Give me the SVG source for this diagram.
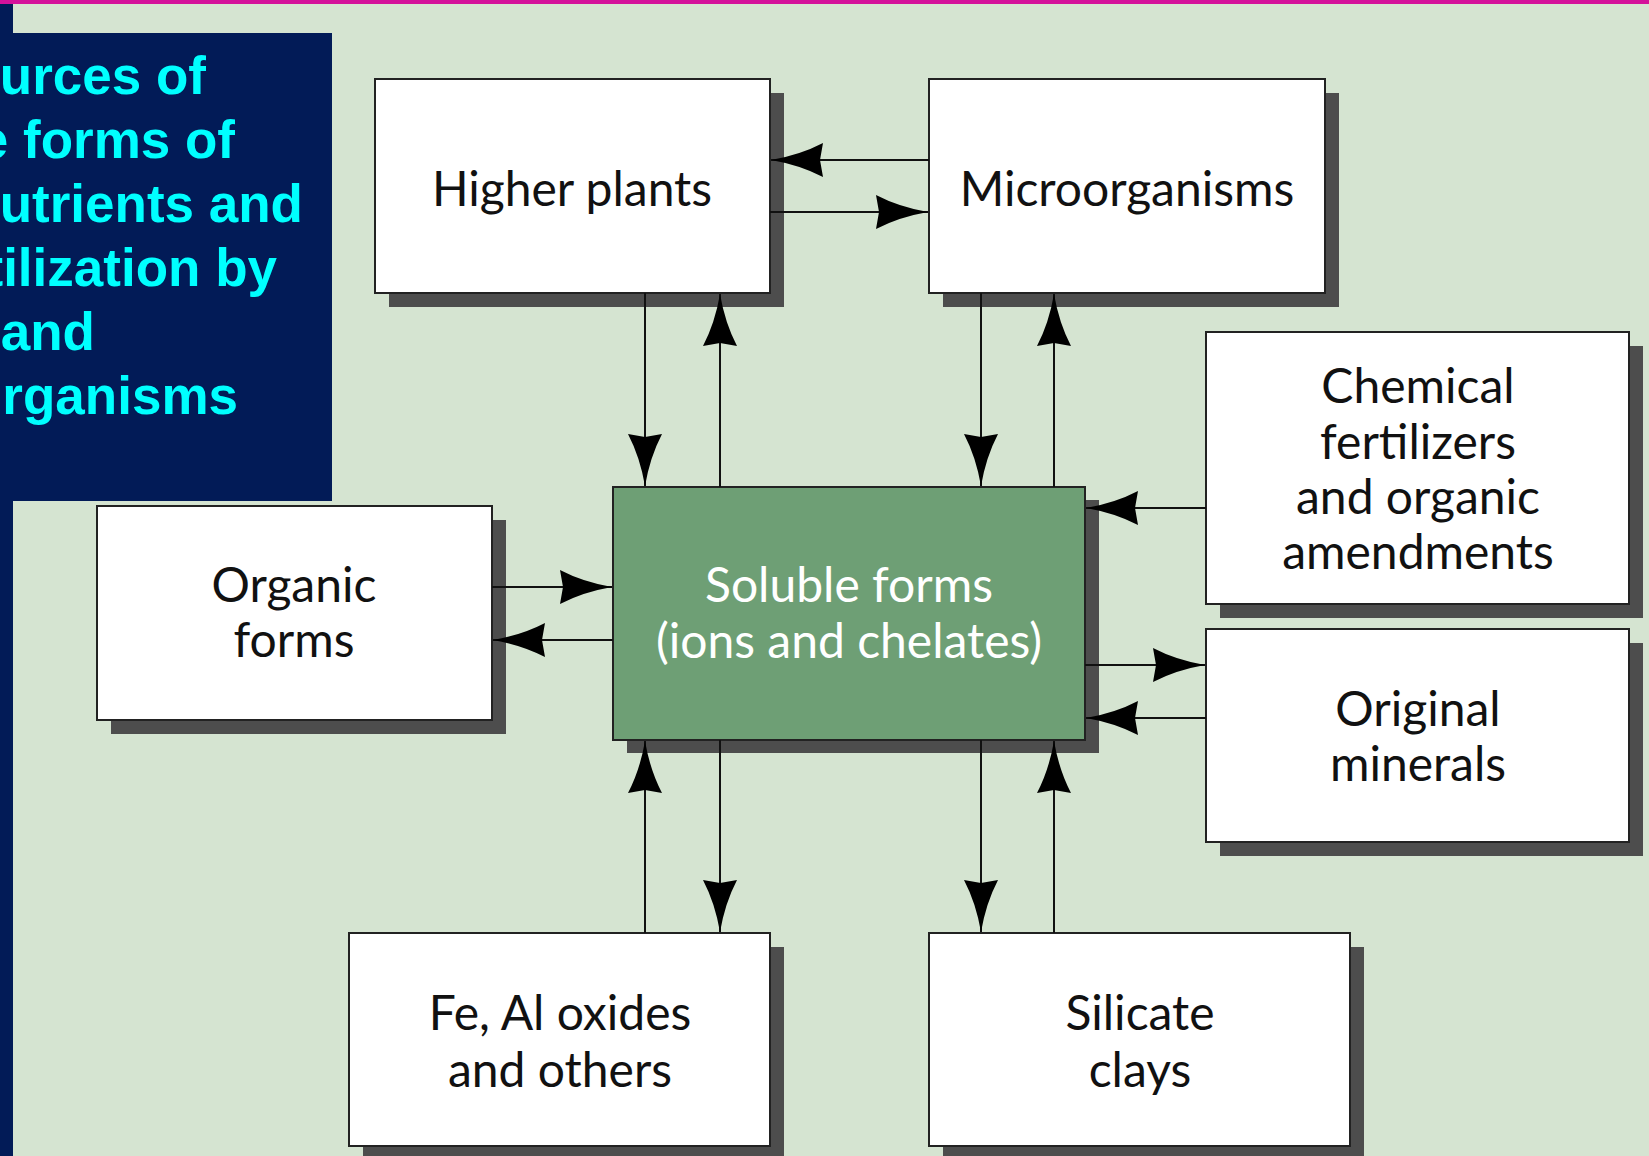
<svg xmlns="http://www.w3.org/2000/svg" width="1649" height="1156" viewBox="0 0 1649 1156">
<style>
.bg{fill:#d5e4d1}
.box{fill:#ffffff;stroke:#222222;stroke-width:2}
.shadow{fill:#4d4d4d}
.green{fill:#6e9f75;stroke:#222222;stroke-width:2}
.lbl{font-family:Lato,"Open Sans","Noto Sans",sans-serif;font-size:48px;fill:#111111;text-anchor:middle}
.wlbl{font-family:Lato,"Open Sans","Noto Sans",sans-serif;font-size:48px;fill:#ffffff;text-anchor:middle}
.title{font-family:"Liberation Sans",Arial,sans-serif;font-size:53px;font-weight:bold;fill:#00ffff;text-anchor:end}
.con{stroke:#111111;stroke-width:2;fill:none;marker-end:url(#ah)}
</style>
<defs>
<marker id="ah" markerUnits="userSpaceOnUse" markerWidth="54" markerHeight="34" viewBox="0 0 54 34" refX="53" refY="17" orient="auto">
<path d="M53,17 Q24,12 1,0 L4,17 L1,34 Q24,22 53,17 Z" fill="#000000"/>
</marker>
</defs>
<rect class="bg" x="0" y="0" width="1649" height="1156"/>
<rect x="0" y="0" width="1649" height="4" fill="#d4129a"/>
<g id="title">
<rect x="0" y="4" width="13" height="1152" fill="#021b57"/>
<rect x="0" y="33" width="332" height="468" fill="#021b57"/>
<text class="title" x="206" y="94">urces of</text>
<text class="title" x="235" y="158">e forms of</text>
<text class="title" x="303" y="222">utrients and</text>
<text class="title" x="277" y="286">tilization by</text>
<text class="title" x="95" y="350">and</text>
<text class="title" x="238" y="414">rganisms</text>
</g>
<g id="higher-plants">
<rect class="shadow" x="389" y="93" width="395" height="214"/>
<rect class="box" x="375" y="79" width="395" height="214"/>
<text class="lbl" x="572" y="206">Higher plants</text>
</g>
<g id="microorganisms">
<rect class="shadow" x="943" y="93" width="396" height="214"/>
<rect class="box" x="929" y="79" width="396" height="214"/>
<text class="lbl" x="1127" y="206">Microorganisms</text>
</g>
<g id="chemical-fertilizers">
<rect class="shadow" x="1220" y="346" width="423" height="272"/>
<rect class="box" x="1206" y="332" width="423" height="272"/>
<text class="lbl" x="1418" y="403">Chemical</text>
<text class="lbl" x="1418" y="459">fertilizers</text>
<text class="lbl" x="1418" y="514">and organic</text>
<text class="lbl" x="1418" y="569">amendments</text>
</g>
<g id="original-minerals">
<rect class="shadow" x="1220" y="643" width="423" height="213"/>
<rect class="box" x="1206" y="629" width="423" height="213"/>
<text class="lbl" x="1418" y="726">Original</text>
<text class="lbl" x="1418" y="781">minerals</text>
</g>
<g id="organic-forms">
<rect class="shadow" x="111" y="520" width="395" height="214"/>
<rect class="box" x="97" y="506" width="395" height="214"/>
<text class="lbl" x="294" y="602">Organic</text>
<text class="lbl" x="294" y="657">forms</text>
</g>
<g id="soluble-forms">
<rect class="shadow" x="627" y="500" width="472" height="253"/>
<rect class="green" x="613" y="487" width="472" height="253"/>
<text class="wlbl" x="849" y="602">Soluble forms</text>
<text class="wlbl" x="849" y="658">(ions and chelates)</text>
</g>
<g id="fe-al-oxides">
<rect class="shadow" x="363" y="947" width="421" height="213"/>
<rect class="box" x="349" y="933" width="421" height="213"/>
<text class="lbl" x="560" y="1030">Fe, Al oxides</text>
<text class="lbl" x="560" y="1087">and others</text>
</g>
<g id="silicate-clays">
<rect class="shadow" x="943" y="947" width="421" height="213"/>
<rect class="box" x="929" y="933" width="421" height="213"/>
<text class="lbl" x="1140" y="1030">Silicate</text>
<text class="lbl" x="1140" y="1087">clays</text>
</g>
<g id="connectors">
<line class="con" x1="929" y1="160" x2="771" y2="160"/>
<line class="con" x1="770" y1="212" x2="928" y2="212"/>
<line class="con" x1="645" y1="293" x2="645" y2="486"/>
<line class="con" x1="720" y1="487" x2="720" y2="294"/>
<line class="con" x1="981" y1="293" x2="981" y2="486"/>
<line class="con" x1="1054" y1="487" x2="1054" y2="294"/>
<line class="con" x1="1206" y1="508" x2="1086" y2="508"/>
<line class="con" x1="1085" y1="665" x2="1205" y2="665"/>
<line class="con" x1="1206" y1="718" x2="1086" y2="718"/>
<line class="con" x1="492" y1="587" x2="612" y2="587"/>
<line class="con" x1="613" y1="640" x2="493" y2="640"/>
<line class="con" x1="645" y1="933" x2="645" y2="741"/>
<line class="con" x1="720" y1="740" x2="720" y2="932"/>
<line class="con" x1="981" y1="740" x2="981" y2="932"/>
<line class="con" x1="1054" y1="933" x2="1054" y2="741"/>
</g>
</svg>
